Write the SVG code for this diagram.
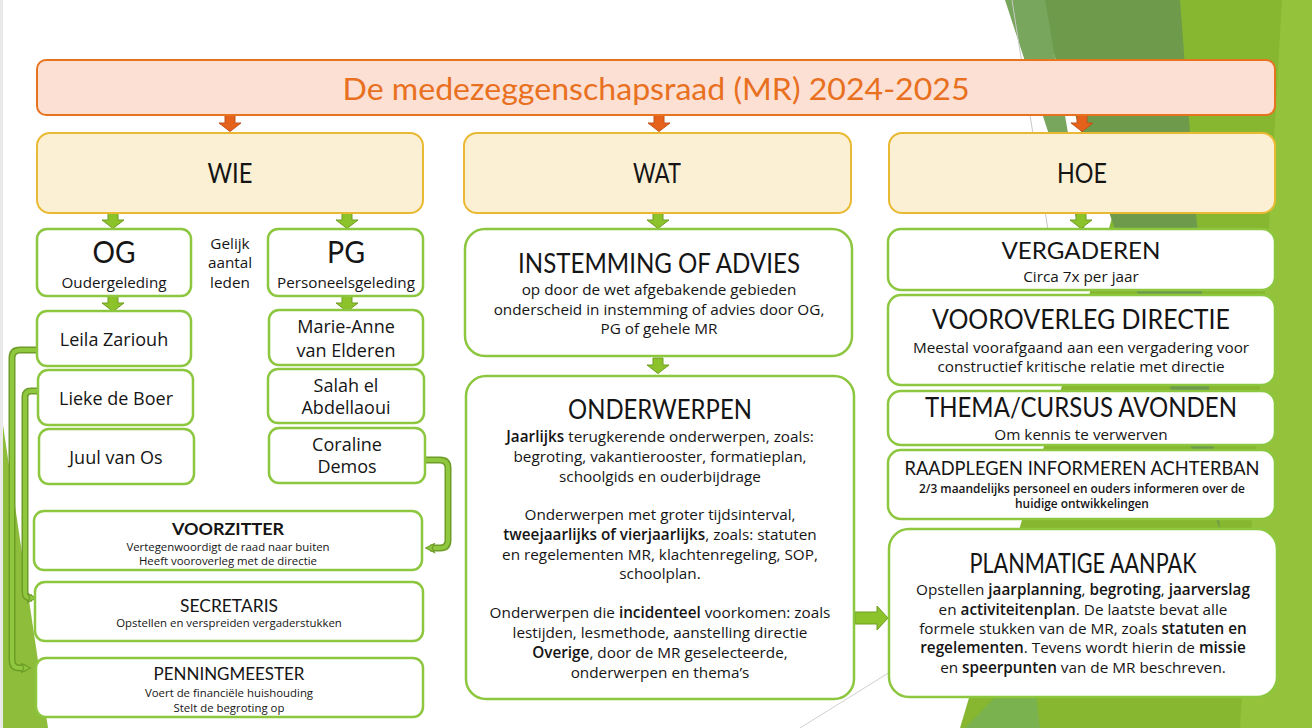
<svg xmlns="http://www.w3.org/2000/svg" width="1312" height="728" viewBox="0 0 1312 728">
<style>
text{font-family:Lato,"Open Sans","Noto Sans",sans-serif;fill:#151515;text-anchor:middle}
.title{fill:#e8701f;font-size:31px}
.cat{fill:#fbf0d3;stroke:#eab934;stroke-width:2}
.box{fill:#fff;stroke:#8dc63f;stroke-width:2.5}
.h1{font-size:26px}
.h2{font-size:24px}
.big{font-size:31px}
.nm{font-family:"Open Sans","Noto Sans",sans-serif;font-size:18px}
.b{font-family:"Open Sans","Noto Sans",sans-serif;font-size:15.3px}
.s{font-family:"Open Sans","Noto Sans",sans-serif;font-size:11.4px}
.bd{font-weight:600}
.sb{font-size:11.9px;font-weight:600}
.cOut{fill:none;stroke:#6d9c27;stroke-width:7;stroke-linejoin:round}
.cIn{fill:none;stroke:#8fc73f;stroke-width:4;stroke-linejoin:round}
</style>
<defs>
<path id="arrO" d="M-5,0 h10 v8 h6 l-11,8.5 l-11,-8.5 h6 z" fill="#e4621c" stroke="#c4511a" stroke-width="1"/>
<path id="arrG" d="M-5,0 h10 v7 h6 l-11,8.5 l-11,-8.5 h6 z" fill="#8cc22a" stroke="#6f9d22" stroke-width="1"/>
<marker id="mk" viewBox="0 0 10 10" refX="5" refY="5" markerWidth="11" markerHeight="11" markerUnits="userSpaceOnUse" orient="auto">
<path d="M1,1 L9,5 L1,9 L3,5 z" fill="#8fc73f" stroke="#6d9c27" stroke-width="1"/>
</marker>
</defs>

<g id="background">
<rect x="0" y="0" width="1312" height="728" fill="#ffffff"/>
<rect x="0" y="0" width="3" height="728" fill="#e9e9e9"/>
<polygon points="3,425 3,728 48,728" fill="#8dbd3a"/>
<polygon points="1177,0 1312,0 1312,728 960,728" fill="#87b630"/>
<polygon points="1282,0 1312,0 1312,728 1240,728" fill="#94c33b"/>
<polygon points="1035,0 1180,0 1220,530" fill="#6d9b4b"/>
<polygon points="1005,0 1045,0 1090,260" fill="#79a65d"/>
<polygon points="965,728 1040,728 1032,660" fill="#79b24f"/>
<line x1="1012" y1="0" x2="1048" y2="230" stroke="#c8c8c8" stroke-width="1"/>
<line x1="800" y1="728" x2="890" y2="672" stroke="#d0d0d0" stroke-width="1"/>
</g>

<g id="connectors">
<use href="#arrO" x="230" y="115"/>
<use href="#arrO" x="659" y="115"/>
<use href="#arrO" x="1082" y="115"/>
<use href="#arrG" x="113" y="213"/>
<use href="#arrG" x="347" y="213"/>
<use href="#arrG" x="658" y="213"/>
<use href="#arrG" x="1081" y="213"/>
<use href="#arrG" x="113" y="296"/>
<use href="#arrG" x="347" y="296"/>
<use href="#arrG" x="658" y="358"/>
<path d="M855,612 h22 v-6 l11,12 l-11,12 v-6 h-22 z" fill="#8cc22a" stroke="#6f9d22" stroke-width="1"/>
<path class="cOut" d="M37,350 H20 Q12,350 12,358 V660 Q12,668 20,668 H26"/>
<path class="cIn" d="M37,350 H20 Q12,350 12,358 V660 Q12,668 20,668 H26" marker-end="url(#mk)"/>
<path class="cOut" d="M38,391 H31 Q25,391 25,397 V592 Q25,598 31,598 H32"/>
<path class="cIn" d="M38,391 H31 Q25,391 25,397 V592 Q25,598 31,598 H32" marker-end="url(#mk)"/>
<path class="cOut" d="M425,460 H440 Q448,460 448,468 V540 Q448,548 440,548 H430"/>
<path class="cIn" d="M425,460 H440 Q448,460 448,468 V540 Q448,548 440,548 H430" marker-end="url(#mk)"/>
</g>

<g id="title">
<rect x="37" y="60" width="1238" height="55" rx="9" fill="#fbe0d3" stroke="#e8731f" stroke-width="2"/>
<text class="title" x="656" y="100" textLength="627" lengthAdjust="spacingAndGlyphs">De medezeggenschapsraad (MR) 2024-2025</text>
</g>

<g id="wie">
<rect class="cat" x="37" y="133" width="386" height="80" rx="13"/>
<text class="h1" x="230" y="183" textLength="45" lengthAdjust="spacingAndGlyphs">WIE</text>
</g>
<g id="wat">
<rect class="cat" x="464" y="133" width="387" height="80" rx="13"/>
<text class="h1" x="657" y="183" textLength="48" lengthAdjust="spacingAndGlyphs">WAT</text>
</g>
<g id="hoe">
<rect class="cat" x="889" y="133" width="386" height="80" rx="13"/>
<text class="h1" x="1082" y="183" textLength="50" lengthAdjust="spacingAndGlyphs">HOE</text>
</g>

<g id="og">
<rect class="box" x="37" y="229" width="154" height="67" rx="10"/>
<text class="big" x="114" y="263" textLength="43" lengthAdjust="spacingAndGlyphs">OG</text>
<text class="b" x="114" y="288" textLength="105" lengthAdjust="spacingAndGlyphs">Oudergeleding</text>
</g>
<g id="gelijk">
<text class="b" x="230" y="249">Gelijk</text>
<text class="b" x="230" y="268">aantal</text>
<text class="b" x="230" y="288">leden</text>
</g>
<g id="pg">
<rect class="box" x="268" y="229" width="155" height="67" rx="10"/>
<text class="big" x="346" y="263" textLength="38" lengthAdjust="spacingAndGlyphs">PG</text>
<text class="b" x="346" y="288" textLength="138" lengthAdjust="spacingAndGlyphs">Personeelsgeleding</text>
</g>

<g id="leila">
<rect class="box" x="37" y="311" width="154" height="55" rx="10"/>
<text class="nm" x="114" y="346">Leila Zariouh</text>
</g>
<g id="lieke">
<rect class="box" x="38" y="370" width="155" height="55" rx="10"/>
<text class="nm" x="116" y="405">Lieke de Boer</text>
</g>
<g id="juul">
<rect class="box" x="39" y="429" width="155" height="55" rx="10"/>
<text class="nm" x="116" y="464">Juul van Os</text>
</g>
<g id="marie">
<rect class="box" x="269" y="310" width="154" height="55" rx="10"/>
<text class="nm" x="346" y="333">Marie-Anne</text>
<text class="nm" x="346" y="357">van Elderen</text>
</g>
<g id="salah">
<rect class="box" x="268" y="369" width="156" height="54" rx="10"/>
<text class="nm" x="346" y="392">Salah el</text>
<text class="nm" x="346" y="414">Abdellaoui</text>
</g>
<g id="coraline">
<rect class="box" x="269" y="428" width="156" height="55" rx="10"/>
<text class="nm" x="347" y="451">Coraline</text>
<text class="nm" x="347" y="473">Demos</text>
</g>

<g id="voorzitter">
<rect class="box" x="34" y="511" width="388" height="59" rx="10"/>
<text x="228" y="535" font-size="17" font-weight="bold" textLength="112" lengthAdjust="spacingAndGlyphs">VOORZITTER</text>
<text class="s" x="228" y="551">Vertegenwoordigt de raad naar buiten</text>
<text class="s" x="228" y="565">Heeft vooroverleg met de directie</text>
</g>
<g id="secretaris">
<rect class="box" x="35" y="582" width="388" height="59" rx="10"/>
<text x="229" y="612" font-size="18" textLength="98" lengthAdjust="spacingAndGlyphs">SECRETARIS</text>
<text class="s" x="229" y="627">Opstellen en verspreiden vergaderstukken</text>
</g>
<g id="penningmeester">
<rect class="box" x="36" y="658" width="387" height="59" rx="10"/>
<text x="229" y="680" font-size="18" textLength="151" lengthAdjust="spacingAndGlyphs">PENNINGMEESTER</text>
<text class="s" x="229" y="697">Voert de financiële huishouding</text>
<text class="s" x="229" y="712">Stelt de begroting op</text>
</g>

<g id="instemming">
<rect class="box" x="465" y="229" width="387" height="127" rx="20"/>
<text class="h1" x="659" y="273" textLength="282" lengthAdjust="spacingAndGlyphs">INSTEMMING OF ADVIES</text>
<text class="b" x="659" y="295">op door de wet afgebakende gebieden</text>
<text class="b" x="659" y="315">onderscheid in instemming of advies door OG,</text>
<text class="b" x="659" y="334">PG of gehele MR</text>
</g>

<g id="onderwerpen">
<rect class="box" x="466" y="376" width="388" height="323" rx="20"/>
<text class="h1" x="660" y="419" textLength="184" lengthAdjust="spacingAndGlyphs">ONDERWERPEN</text>
<text class="b" x="660" y="442"><tspan class="bd">Jaarlijks</tspan> terugkerende onderwerpen, zoals:</text>
<text class="b" x="660" y="462">begroting, vakantierooster, formatieplan,</text>
<text class="b" x="660" y="482">schoolgids en ouderbijdrage</text>
<text class="b" x="660" y="520">Onderwerpen met groter tijdsinterval,</text>
<text class="b" x="660" y="540"><tspan class="bd">tweejaarlijks of vierjaarlijks</tspan>, zoals: statuten</text>
<text class="b" x="660" y="560">en regelementen MR, klachtenregeling, SOP,</text>
<text class="b" x="660" y="579">schoolplan.</text>
<text class="b" x="660" y="618">Onderwerpen die <tspan class="bd">incidenteel</tspan> voorkomen: zoals</text>
<text class="b" x="660" y="638">lestijden, lesmethode, aanstelling directie</text>
<text class="b" x="660" y="658"><tspan class="bd">Overige</tspan>, door de MR geselecteerde,</text>
<text class="b" x="660" y="678">onderwerpen en thema’s</text>
</g>

<g id="vergaderen">
<rect class="box" x="888" y="229" width="387" height="61" rx="13"/>
<text class="h2" x="1081" y="259" textLength="159" lengthAdjust="spacingAndGlyphs">VERGADEREN</text>
<text class="b" x="1081" y="282">Circa 7x per jaar</text>
</g>
<g id="vooroverleg">
<rect class="box" x="888" y="295" width="387" height="90" rx="13"/>
<text class="h1" x="1081" y="329" textLength="298" lengthAdjust="spacingAndGlyphs">VOOROVERLEG DIRECTIE</text>
<text class="b" x="1081" y="353">Meestal voorafgaand aan een vergadering voor</text>
<text class="b" x="1081" y="372">constructief kritische relatie met directie</text>
</g>
<g id="thema">
<rect class="box" x="888" y="391" width="387" height="54" rx="13"/>
<text class="h1" x="1081" y="417" textLength="312" lengthAdjust="spacingAndGlyphs">THEMA/CURSUS AVONDEN</text>
<text class="b" x="1081" y="440">Om kennis te verwerven</text>
</g>
<g id="raadplegen">
<rect class="box" x="888" y="450" width="387" height="69" rx="13"/>
<text x="1082" y="475" font-size="20" textLength="355" lengthAdjust="spacingAndGlyphs">RAADPLEGEN INFORMEREN ACHTERBAN</text>
<text class="s sb" x="1082" y="493">2/3 maandelijks personeel en ouders informeren over de</text>
<text class="s sb" x="1082" y="508">huidige ontwikkelingen</text>
</g>
<g id="planmatig">
<rect class="box" x="889" y="529" width="388" height="168" rx="20"/>
<text class="h1" x="1083" y="573" textLength="227" lengthAdjust="spacingAndGlyphs">PLANMATIGE AANPAK</text>
<text class="b" x="1083" y="595">Opstellen <tspan class="bd">jaarplanning</tspan>, <tspan class="bd">begroting</tspan>, <tspan class="bd">jaarverslag</tspan></text>
<text class="b" x="1083" y="615">en <tspan class="bd">activiteitenplan</tspan>. De laatste bevat alle</text>
<text class="b" x="1083" y="634">formele stukken van de MR, zoals <tspan class="bd">statuten en</tspan></text>
<text class="b" x="1083" y="653"><tspan class="bd">regelementen</tspan>. Tevens wordt hierin de <tspan class="bd">missie</tspan></text>
<text class="b" x="1083" y="673">en <tspan class="bd">speerpunten</tspan> van de MR beschreven.</text>
</g>
</svg>
